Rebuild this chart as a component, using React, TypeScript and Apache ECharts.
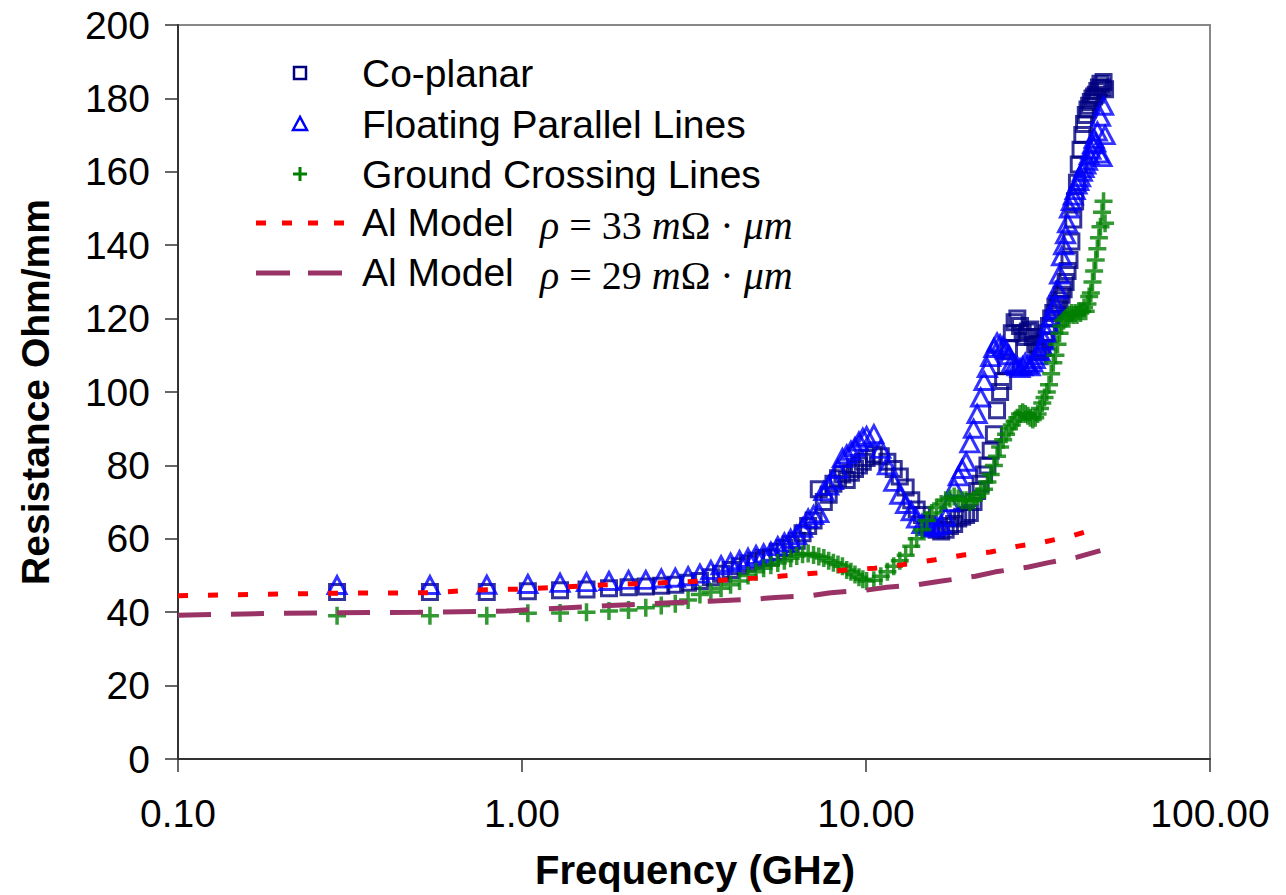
import React, { useEffect, useRef } from "react";
import * as echarts from "echarts";

// Measured frequencies (GHz)
const FREQ_GHZ = [
  0.29, 0.54, 0.79, 1.04, 1.29, 1.54, 1.79, 2.04, 2.29, 2.54, 2.79,
  3.04, 3.29, 3.54, 3.79, 4.04, 4.29, 4.54, 4.79, 5.04, 5.29, 5.54,
  5.79, 6.04, 6.29, 6.54, 6.79, 7.04, 7.29, 7.54, 7.79, 8.04, 8.29,
  8.54, 8.79, 9.04, 9.29, 9.54, 9.79, 10.04,
  10.54, 11.04, 11.54, 12.04, 12.54, 13.04, 13.54, 14.04, 14.54, 15.04,
  15.54, 16.04, 16.54, 17.04, 17.54, 18.04, 18.54, 19.04, 19.54, 20.04,
  20.54, 21.04, 21.54, 22.04, 22.54, 23.04, 23.54, 24.04, 24.54, 25.04,
  25.54, 26.04, 26.54, 27.04, 27.54, 28.04, 28.54, 29.04, 29.54, 30.04,
  30.54, 31.04, 31.54, 32.04, 32.54, 33.04, 33.54, 34.04, 34.54, 35.04,
  35.54, 36.04, 36.54, 37.04, 37.54, 38.04, 38.54, 39.04, 39.54, 40.04,
  40.54, 41.04, 41.54, 42.04, 42.54, 43.04, 43.54, 44.04, 44.54, 45.04,
  45.54, 46.04, 46.54, 47.04, 47.54, 48.04, 48.54, 49.04, 49.54,
];

// Resistance (Ohm/mm)
const CO_PLANAR = [
  45.5, 45.5, 45.5, 45.7, 46.0, 46.2, 46.5, 46.8, 47.0, 47.2, 47.5,
  48.0, 48.5, 49.5, 50.5, 51.5, 52.5, 53.3, 54.0, 54.8, 55.0, 56.5,
  57.5, 58.5, 59.5, 61.5, 63.5, 65.0, 73.5, 70.0, 72.0, 75.0, 76.5,
  77.5, 76.0, 78.0, 79.0, 80.0, 81.0, 82.0,
  83.0, 82.5, 81.0, 79.0, 77.0, 74.0, 70.5, 68.0, 66.5, 64.0,
  63.0, 62.5, 62.0, 62.5, 63.5, 64.0, 65.5, 66.0, 66.5, 67.0,
  70.0, 73.0, 75.0, 77.5, 80.0, 84.0, 88.5, 95.0, 100.0, 103.0,
  107.0, 112.0, 116.0, 119.0, 120.0, 118.0, 116.0, 115.0, 116.5, 117.0,
  115.0, 113.0, 111.5, 111.0, 112.0, 114.0, 116.0, 118.0, 120.0, 121.5,
  123.0, 124.0, 125.0, 126.5, 128.0, 130.0, 133.0, 136.0, 141.0, 147.0,
  152.0, 157.0, 162.0, 166.0, 170.0, 173.0, 175.5, 177.0, 178.0, 179.0,
  180.0, 180.5, 181.0, 182.0, 183.0, 184.0, 183.0, 184.5, 182.5,
];

const FLOATING_PARALLEL = [
  47.4, 47.4, 47.5, 47.7, 48.0, 48.2, 48.5, 48.8, 48.8, 49.2, 49.4,
  49.8, 50.5, 51.5, 52.8, 53.5, 54.2, 54.8, 55.6, 56.0, 56.5, 58.0,
  59.0, 60.0, 61.0, 63.0, 65.5, 66.5, 67.0, 73.0, 74.5, 76.0, 79.0,
  82.0, 83.0, 84.0, 85.0, 86.5, 87.5, 88.0,
  88.5, 84.5, 80.0, 75.5, 72.0, 69.5, 67.5, 65.5, 64.0, 63.5,
  63.0, 63.5, 64.0, 66.0, 70.0, 74.0, 77.0, 79.0, 81.0, 86.0,
  90.0, 94.0, 98.5, 103.0, 106.5, 109.5, 112.0, 113.5, 113.0, 112.5,
  111.5, 110.0, 108.0, 107.5, 107.0, 106.5, 107.0, 108.0, 107.5, 107.0,
  108.0, 109.0, 110.0, 111.0, 112.5, 114.0, 116.0, 118.5, 120.5, 122.5,
  124.0, 128.0, 132.0, 137.0, 140.0, 143.0, 146.0, 150.0, 152.0, 153.5,
  155.0, 156.5, 157.5, 158.5, 160.0, 161.0, 162.0, 163.0, 164.5, 166.0,
  167.5, 169.0, 168.0, 171.0, 165.0, 175.0, 164.0, 178.0, 170.0,
];

const GROUND_CROSSING = [
  39.0, 39.0, 39.0, 39.7, 39.8, 40.0, 40.3, 40.6, 41.2, 41.8, 42.3,
  43.3, 44.8, 45.5, 46.5, 47.5, 48.5, 50.0, 51.0, 52.0, 52.8, 53.4,
  54.0, 54.7, 55.3, 55.8, 56.0, 55.6, 55.2, 54.8, 54.0, 53.5, 53.0,
  52.5, 51.5, 51.0, 50.3, 49.5, 49.0, 48.5,
  48.7, 49.8, 51.0, 52.5, 54.0, 55.5, 58.0, 60.0, 62.5, 65.0,
  67.0, 68.5, 69.5, 70.5, 71.0, 71.5, 71.0, 70.5, 70.5, 70.0,
  70.5, 71.5, 72.5, 73.5, 75.5, 77.5, 80.0, 82.5, 85.0, 87.0,
  88.5, 90.0, 91.0, 92.0, 93.0, 94.0, 94.5, 94.0, 93.5, 93.0,
  92.5, 93.0, 94.0, 95.5, 97.0, 98.5, 100.0, 102.0, 105.0, 108.0,
  110.0, 113.0, 116.0, 118.0, 119.5, 120.0, 120.5, 121.0, 121.5, 121.0,
  121.5, 121.0, 122.0, 121.5, 122.0, 123.0, 122.0, 124.0, 126.0, 127.0,
  130.0, 133.0, 136.0, 139.0, 142.0, 145.0, 149.0, 152.0, 146.0,
];

// Al model, rho = 33 mOhm*um
const MODEL33_FREQ = [0.1, 0.3, 0.55, 0.7, 1.0, 1.7, 2.55, 3.9, 4.8, 5.8, 7.2, 8.7, 10.6, 12.7, 15.9, 19.2, 23.0, 27.7, 33.1, 39.7, 46.4, 48.5];
const MODEL33_R = [44.5, 45.2, 45.3, 46.0, 46.3, 47.4, 48.0, 48.8, 49.3, 49.9, 50.7, 51.5, 52.0, 52.9, 54.3, 55.6, 56.4, 58.0, 59.2, 60.8, 62.7, 63.5];

// Al model, rho = 29 mOhm*um
const MODEL29_FREQ = [0.1, 0.2, 0.5, 0.9, 1.1, 1.8, 2.6, 3.5, 4.65, 5.45, 6.9, 7.9, 10.0, 11.5, 14.1, 16.6, 20.8, 23.8, 29.7, 33.9, 41.1, 48.0];
const MODEL29_R = [39.2, 39.7, 40.0, 40.3, 40.8, 41.8, 42.5, 43.0, 43.5, 44.0, 44.5, 45.3, 46.0, 46.8, 47.5, 48.5, 49.8, 51.0, 52.3, 53.5, 55.0, 56.8];

const LEGEND_LABELS = ["Co-planar", "Floating Parallel Lines", "Ground Crossing Lines", "Al Model", "Al Model"];
const MODEL_RHO = ["33", "29"];
const X_TITLE = "Frequency (GHz)";
const Y_TITLE = "Resistance Ohm/mm";

const SANS = 'Arial, "Liberation Sans", sans-serif';
const SERIF = '"Times New Roman", "Liberation Serif", serif';

const pairs = (xs: number[], ys: number[]) => xs.map((x, i) => [x, ys[i]]);

export default function App() {
  const ref = useRef<HTMLDivElement>(null);
  useEffect(() => {
    const chart = echarts.init(ref.current!, null, { renderer: "svg" });
    const rowY = [73, 124, 174, 222, 272];
    const textX = 362;
    const graphic: any[] = [];
    LEGEND_LABELS.forEach((t, i) => {
      graphic.push({
        type: "text",
        x: textX,
        y: rowY[i],
        style: { text: t, font: `39px ${SANS}`, fill: "#000", align: "left", verticalAlign: "middle", textAlign: "left", textVerticalAlign: "middle" },
      });
    });
    MODEL_RHO.forEach((r, i) => {
      graphic.push({
        type: "text",
        x: 540,
        y: rowY[3 + i] + 3,
        style: {
          text: `{i|ρ} = ${r} {i|m}Ω · {i|μm}`,
          font: `40px ${SERIF}`,
          fill: "#000",
          align: "left",
          verticalAlign: "middle",
          textAlign: "left",
          textVerticalAlign: "middle",
          rich: { i: { fontStyle: "italic", fontSize: 40, fontFamily: SERIF } },
        },
      });
    });
    // legend symbols
    graphic.push({ type: "rect", shape: { x: 294, y: rowY[0] - 6, width: 12, height: 12 }, style: { fill: "none", stroke: "#000080", lineWidth: 2.5 } });
    graphic.push({ type: "polygon", shape: { points: [[300, rowY[1] - 7], [293, rowY[1] + 6], [307, rowY[1] + 6]] }, style: { fill: "none", stroke: "#0000FF", lineWidth: 2.5 } });
    graphic.push({ type: "line", shape: { x1: 293, y1: rowY[2], x2: 307, y2: rowY[2] }, style: { stroke: "#008000", lineWidth: 3 } });
    graphic.push({ type: "line", shape: { x1: 300, y1: rowY[2] - 7, x2: 300, y2: rowY[2] + 7 }, style: { stroke: "#008000", lineWidth: 3 } });
    graphic.push({ type: "line", shape: { x1: 256, y1: rowY[3] + 1, x2: 345, y2: rowY[3] + 1 }, style: { stroke: "#FF0000", lineWidth: 5, lineDash: [10, 16] } });
    graphic.push({ type: "line", shape: { x1: 256, y1: rowY[4] + 1, x2: 343, y2: rowY[4] + 1 }, style: { stroke: "#993366", lineWidth: 5, lineDash: [34, 18] } });
    // axis titles
    graphic.push({
      type: "text", x: 695, y: 870,
      style: { text: X_TITLE, font: `bold 40px ${SANS}`, fill: "#000", align: "center", verticalAlign: "middle", textAlign: "center", textVerticalAlign: "middle" },
    });
    graphic.push({
      type: "text", x: 35, y: 392, rotation: Math.PI / 2,
      style: { text: Y_TITLE, font: `bold 39px ${SANS}`, fill: "#000", align: "center", verticalAlign: "middle", textAlign: "center", textVerticalAlign: "middle" },
    });

    const hollow = "rgba(255,255,255,0)";
    chart.setOption({
      animation: false,
      backgroundColor: "#fff",
      grid: { left: 178, right: 76, top: 25, bottom: 136, show: true, borderColor: "#888", borderWidth: 2, backgroundColor: "transparent" },
      xAxis: {
        type: "log",
        logBase: 10,
        min: 0.1,
        max: 100,
        axisLine: { show: true, lineStyle: { color: "#333", width: 2 } },
        axisTick: { show: true, length: 13, lineStyle: { color: "#333", width: 1.5 } },
        minorTick: { show: false },
        splitLine: { show: false },
        axisLabel: { fontSize: 39, fontFamily: SANS, color: "#000", margin: 35, formatter: (v: number) => v.toFixed(2) },
      },
      yAxis: {
        type: "value",
        min: 0,
        max: 200,
        interval: 20,
        axisLine: { show: true, lineStyle: { color: "#333", width: 2 } },
        axisTick: { show: true, length: 13, lineStyle: { color: "#333", width: 1.5 } },
        splitLine: { show: false },
        axisLabel: { fontSize: 39, fontFamily: SANS, color: "#000", margin: 28 },
      },
      series: [
        {
          name: "Co-planar", type: "scatter", data: pairs(FREQ_GHZ, CO_PLANAR), symbol: "rect", symbolSize: 15,
          itemStyle: { color: hollow, borderColor: "#000080", borderWidth: 3 },
        },
        {
          name: "Floating Parallel Lines", type: "scatter", data: pairs(FREQ_GHZ, FLOATING_PARALLEL), symbol: "triangle", symbolSize: [18, 17],
          itemStyle: { color: hollow, borderColor: "#0000FF", borderWidth: 3 },
        },
        {
          name: "Ground Crossing Lines", type: "scatter", data: pairs(FREQ_GHZ, GROUND_CROSSING), symbol: "path://M0,8L16,8M8,0L8,16", symbolSize: 18,
          itemStyle: { color: hollow, borderColor: "#008000", borderWidth: 3.5 },
        },
        {
          name: "Al Model 33", type: "line", data: pairs(MODEL33_FREQ, MODEL33_R), symbol: "none",
          lineStyle: { color: "#FF0000", width: 5, type: [10, 20] },
        },
        {
          name: "Al Model 29", type: "line", data: pairs(MODEL29_FREQ, MODEL29_R), symbol: "none",
          lineStyle: { color: "#993366", width: 5, type: [33, 20] },
        },
      ],
      graphic,
    });
    return () => chart.dispose();
  }, []);
  return <div ref={ref} style={{ position: "fixed", left: 0, top: 0, width: 1286, height: 895, background: "#fff" }} />;
}
